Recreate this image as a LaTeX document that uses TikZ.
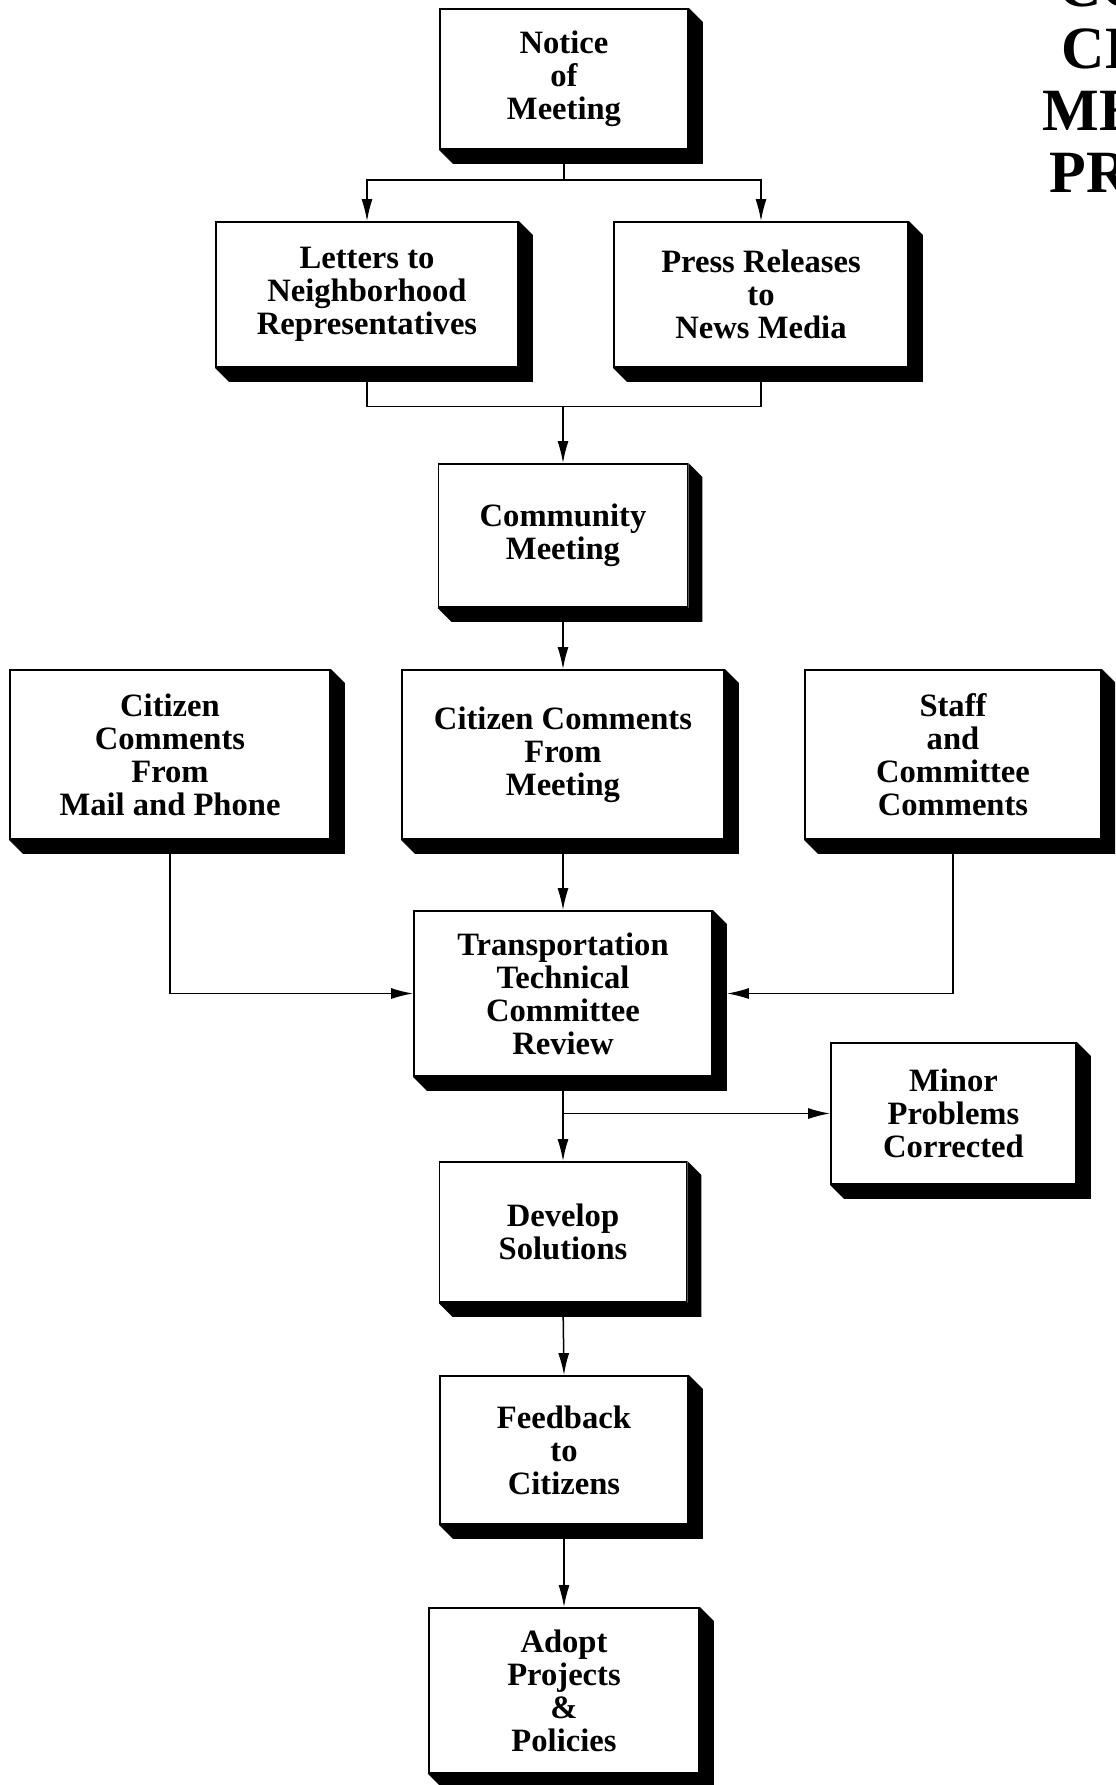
\documentclass[tikz,border=0pt]{standalone}
\usepackage{fontspec}
\setmainfont{Liberation Serif}
\usetikzlibrary{arrows.meta,calc}
\begin{document}
\begin{tikzpicture}[x=0.5bp,y=-0.5bp,
  box/.style={draw,line width=0.9bp,fill=white,align=center,inner sep=0pt,
    font=\fontsize{16.3bp}{16.5bp}\selectfont\bfseries},
  ttl/.style={anchor=base,inner sep=0pt,font=\fontsize{30bp}{31bp}\selectfont\bfseries},
  conn/.style={line width=0.75bp},
  arr/.style={conn,-{Latex[length=11bp,width=5.5bp]}},
]
\useasboundingbox (0,0) rectangle (1115,1785);
\clip (0,0) rectangle (1115,1785);

% title (cut by the right edge)
\node[ttl] (t1) at (1188,6) {COUNTY};
\node[ttl] (t2) at (1188,68) {CITIZEN};
\node[ttl] (t3) at (1188,130) {MEETING};
\node[ttl] (t4) at (1188,192) {PROCESS};

% boxes
\node[box,minimum width=124bp,minimum height=70bp] (notice) at (564,79) {Notice\\of\\Meeting};
\node[box,minimum width=151bp,minimum height=72.5bp] (letters) at (367,294.5) {Letters to\\Neighborhood\\Representatives};
\node[box,minimum width=147bp,minimum height=72.5bp] (press) at (761,294.5) {Press Releases\\to\\News Media};
\node[box,minimum width=124.5bp,minimum height=71.5bp] (community) at (563,535.5) {Community\\Meeting};
\node[box,minimum width=160bp,minimum height=84.5bp] (mail) at (170,754.5) {Citizen\\Comments\\From\\Mail and Phone};
\node[box,minimum width=161bp,minimum height=84.5bp] (mtg) at (563,754.5) {Citizen Comments\\From\\Meeting};
\node[box,minimum width=148bp,minimum height=84.5bp] (staff) at (953,754.5) {Staff\\and\\Committee\\Comments};
\node[box,minimum width=149bp,minimum height=82.5bp] (ttc) at (563,993.5) {Transportation\\Technical\\Committee\\Review};
\node[box,minimum width=122.5bp,minimum height=70.5bp] (minor) at (953.5,1113.5) {Minor\\Problems\\Corrected};
\node[box,minimum width=123.5bp,minimum height=70bp] (develop) at (563,1232) {Develop\\Solutions};
\node[box,minimum width=124bp,minimum height=74bp] (feedback) at (564,1450) {Feedback\\to\\Citizens};
\node[box,minimum width=135bp,minimum height=82.5bp] (adopt) at (564,1690.5) {Adopt\\Projects\\\&\\Policies};

% bevelled shadows
\foreach \n in {notice,letters,press,community,mail,mtg,staff,ttc,minor,develop,feedback,adopt}
  \fill (\n.north east) -- ++(14,14) -- ($(\n.south east)+(14,14)$)
        -- ($(\n.south west)+(14,14)$) -- (\n.south west) -- (\n.south east) -- cycle;

% connectors
\coordinate (fk) at (564,180);
\draw[conn] (notice.south) -- (fk);
\draw[arr] (fk) -| (letters.north);
\draw[arr] (fk) -| (press.north);

\coordinate (jn) at (563,406.6);
\draw[conn] (letters.south) |- (jn);
\draw[conn] (press.south) |- (jn);
\draw[arr] (jn) -- (community.north);

\draw[arr] (community.south) -- (mtg.north);
\draw[arr] (mtg.south) -- (ttc.north);
\draw[arr] (mail.south) |- (ttc.west);
\coordinate (ttcshadow) at ($(ttc.east)+(14,0)$);
\draw[arr] (staff.south) |- (ttcshadow);

\draw[arr] (ttc.south) -- (develop.north);
\coordinate (br) at (ttc.south |- minor.west);
\draw[arr] (br) -- (minor.west);
\draw[arr] (develop.south) -- (feedback.north);
\draw[arr] (feedback.south) -- (adopt.north);
\end{tikzpicture}
\end{document}
